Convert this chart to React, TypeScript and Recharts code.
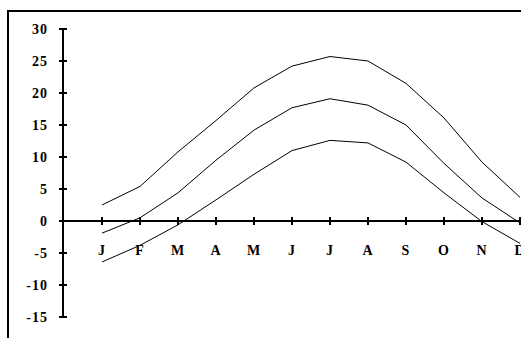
import React from 'react';
import { LineChart, Line, XAxis, YAxis, ReferenceLine } from 'recharts';

const months = ['Jan', 'Feb', 'Mar', 'Apr', 'May', 'Jun', 'Jul', 'Aug', 'Sep', 'Oct', 'Nov', 'Dec'];
const monthLabels = ['J', 'F', 'M', 'A', 'M', 'J', 'J', 'A', 'S', 'O', 'N', 'D'];
const upper = [2.5, 5.4, 10.8, 15.7, 20.8, 24.2, 25.7, 25, 21.5, 16.1, 9.2, 3.7];
const middle = [-1.9, 0.5, 4.4, 9.5, 14.2, 17.7, 19.1, 18.1, 15, 9, 3.6, -0.3];
const lower = [-6.4, -3.8, -0.6, 3.3, 7.3, 11, 12.6, 12.2, 9.2, 4.4, -0.1, -3.5];
const yTicks = [-15, -10, -5, 0, 5, 10, 15, 20, 25, 30];

const data = months.map((m, i) => ({ month: m, upper: upper[i], middle: middle[i], lower: lower[i] }));

const Y_MIN = -15;
const Y_MAX = 30;
const MARGIN = { top: 17, right: 10, left: 0, bottom: 5 };
const PLOT_H = 288;
const X_AXIS_H = 30;
// y pixel of the zero line, where the category axis crosses
const Y_ZERO = MARGIN.top + ((Y_MAX - 0) / (Y_MAX - Y_MIN)) * PLOT_H;

const font = {
  fontFamily: '"Liberation Serif", "Times New Roman", serif',
  fontSize: 14,
  fontWeight: 'bold' as const,
  letterSpacing: 1,
};

const YTick = (props: any) => {
  const { x, y, payload } = props;
  return (
    <g>
      <line x1={x - 4} x2={x + 4} y1={y} y2={y} stroke="#000" strokeWidth={2} shapeRendering="crispEdges" />
      <text x={x - 15} y={y} dy={5} textAnchor="end" fill="#000" style={font}>
        {payload.value}
      </text>
    </g>
  );
};

const XTick = (props: any) => {
  const { x, index } = props;
  return (
    <g>
      <line x1={x} x2={x} y1={Y_ZERO - 4} y2={Y_ZERO + 4} stroke="#000" strokeWidth={1.5} shapeRendering="crispEdges" />
      <text x={x} y={Y_ZERO + 34} textAnchor="middle" fill="#000" style={font}>
        {monthLabels[index]}
      </text>
    </g>
  );
};

export default function App() {
  return (
    <div style={{ position: 'fixed', left: 0, top: 0, width: 521, height: 338, overflow: 'hidden', background: '#fff' }}>
      <div style={{ position: 'absolute', left: 7, top: 10, width: 600, height: 400, border: '2px solid #000' }}>
        <LineChart width={559} height={MARGIN.top + PLOT_H + X_AXIS_H + MARGIN.bottom} data={data} margin={MARGIN}>
          <XAxis
            dataKey="month"
            height={X_AXIS_H}
            axisLine={false}
            tickLine={false}
            tick={<XTick />}
            interval={0}
            padding={{ left: 39, right: 38 }}
          />
          <YAxis
            width={54}
            domain={[Y_MIN, Y_MAX]}
            ticks={yTicks}
            interval={0}
            tickSize={0}
            tickMargin={0}
            tickLine={false}
            axisLine={{ stroke: '#000', strokeWidth: 2 }}
            tick={<YTick />}
          />
          <ReferenceLine y={0} stroke="#000" strokeWidth={2} />
          <Line dataKey="upper" stroke="#000" strokeWidth={1} dot={false} isAnimationActive={false} />
          <Line dataKey="middle" stroke="#000" strokeWidth={1} dot={false} isAnimationActive={false} />
          <Line dataKey="lower" stroke="#000" strokeWidth={1} dot={false} isAnimationActive={false} />
        </LineChart>
      </div>
    </div>
  );
}
